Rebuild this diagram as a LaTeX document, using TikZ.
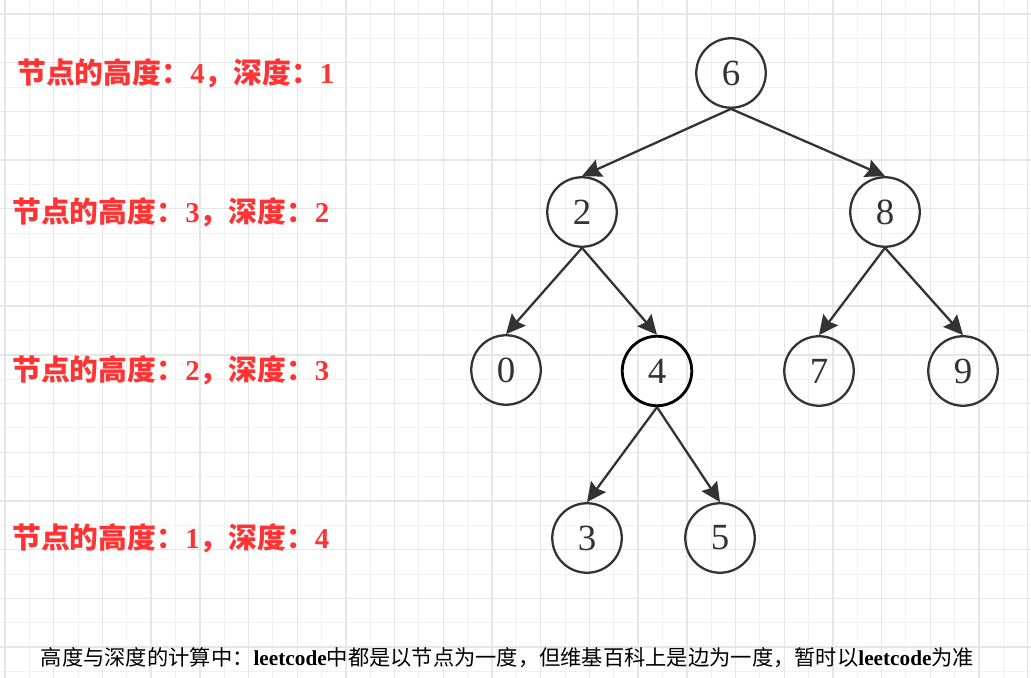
\documentclass[tikz,border=0pt]{standalone}
\usepackage{fontspec}
\setmainfont{Liberation Serif}
\newfontfamily\cjk{Noto Sans CJK SC}
\usepackage{tikz}
\usetikzlibrary{arrows.meta}
\definecolor{ink}{HTML}{333333}
\definecolor{lbl}{HTML}{FF3333}
\definecolor{gridminor}{HTML}{F2F2F2}
\definecolor{gridmajor}{HTML}{E6E6E6}

\begin{document}
\begin{tikzpicture}[main/.style = {draw=ink, circle, line width=1.3pt, minimum size=1.39cm, inner sep=0pt, text=ink, font=\fontsize{21}{23}\selectfont},
  edge/.style = {draw=ink, line width=1.3pt, -{Stealth[length=11pt, width=10.5pt, inset=1.5pt, fill=ink]}},
  info/.style = {anchor=west, inner sep=0pt, text=lbl, font=\fontsize{16.4}{19}\selectfont\bfseries}]

\useasboundingbox (0,0) rectangle (20.62,13.54);
\fill[white] (0,0) rectangle (20.62,13.54);

%% grid
\begin{scope}
\clip (0,0) rectangle (20.62,13.54);
\draw[gridminor, line width=0.6pt, shift={(0.1,0.111)}] (-1,-1) grid[step=0.487] (21,14);
\draw[gridmajor, line width=0.8pt, shift={(0.1,0.598)}] (-1,-1) grid[step=0.974] (21,14);
\end{scope}

%% level labels
\node[info] (d1) at (0.34, 12.08) {\cjk 节点的高度：\rmfamily 4\cjk ，深度：\rmfamily 1};
\node[info] (d2) at (0.24, 9.30) {\cjk 节点的高度：\rmfamily 3\cjk ，深度：\rmfamily 2};
\node[info] (d3) at (0.24, 6.14) {\cjk 节点的高度：\rmfamily 2\cjk ，深度：\rmfamily 3};
\node[info] (d4) at (0.24, 2.78) {\cjk 节点的高度：\rmfamily 1\cjk ，深度：\rmfamily 4};

%% tree nodes
\node[main] (6) at (14.62, 12.08) {6};
\node[main] (2) at (11.64, 9.30) {2};
\node[main] (8) at (17.70, 9.30) {8};
\node[main] (0) at (10.12, 6.14) {0};
\node[main, draw=black, line width=1.6pt] (4) at (13.14, 6.12) {4};
\node[main] (7) at (16.38, 6.12) {7};
\node[main] (9) at (19.26, 6.12) {9};
\node[main] (3) at (11.74, 2.78) {3};
\node[main] (5) at (14.40, 2.78) {5};

%% edges
\draw[edge] (6.south) -- (2.north);
\draw[edge] (6.south) -- (8.north);
\draw[edge] (2.south) -- (0.north);
\draw[edge] (2.south) -- (4.north);
\draw[edge] (8.south) -- (7.north);
\draw[edge] (8.south) -- (9.north);
\draw[edge] (4.south) -- (3.north);
\draw[edge] (4.south) -- (5.north);

%% note
\node[font=\fontsize{12.1}{14}\selectfont] (note) at (10.15, 0.38) {\cjk 高度与深度的计算中：\textbf{\rmfamily leetcode}中都是以节点为一度，但维基百科上是边为一度，暂时以\textbf{\rmfamily leetcode}为准};

\end{tikzpicture}
\end{document}
